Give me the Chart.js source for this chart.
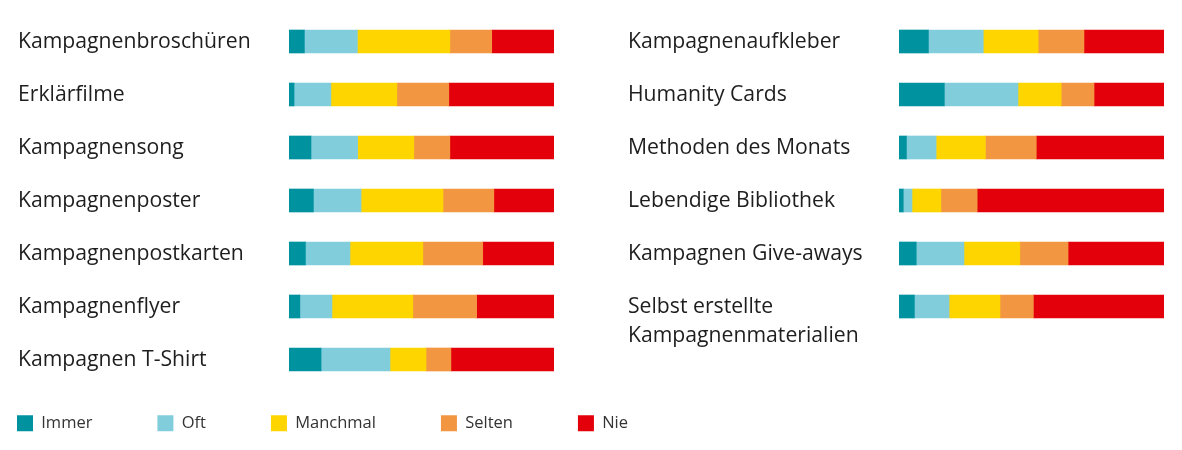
<!DOCTYPE html>
<html><head><meta charset="utf-8">
<script src="https://cdn.jsdelivr.net/npm/chart.js@4.4.1/dist/chart.umd.min.js"></script>
<style>
html,body{margin:0;padding:0;background:#fff;overflow:hidden;width:1182px;height:450px}
.box{position:absolute}
</style></head><body>
<div class="box" style="left:0;top:0"><canvas id="c1" width="572" height="400"></canvas></div>
<div class="box" style="left:610px;top:0"><canvas id="c2" width="572" height="400"></canvas></div>
<div class="box" style="left:-48px;top:350px"><canvas id="c3" width="800" height="220"></canvas></div>
<script>
const seriesNames = ['Immer','Oft','Manchmal','Selten','Nie'];
const seriesColors = ['#00929F','#82CDDC','#FFD500','#F39642','#E3000B'];

const leftCategories = ['Kampagnenbroschüren','Erklärfilme','Kampagnensong','Kampagnenposter','Kampagnenpostkarten','Kampagnenflyer','Kampagnen T-Shirt'];
const leftImmer    = [5.8, 1.9, 8.3, 9.2, 6.2, 4.1, 12.1];
const leftOft      = [20.0, 13.9, 17.6, 18.0, 16.8, 12.1, 26.0];
const leftManchmal = [34.9, 24.9, 21.2, 30.9, 27.5, 30.5, 13.6];
const leftSelten   = [15.8, 19.6, 13.6, 19.2, 22.6, 24.1, 9.4];
const leftNie      = [23.5, 39.7, 39.3, 22.7, 26.9, 29.2, 38.9];

const rightCategories = ['Kampagnenaufkleber','Humanity Cards','Methoden des Monats','Lebendige Bibliothek','Kampagnen Give-aways',['Selbst erstellte','Kampagnenmaterialien']];
const rightImmer    = [11.1, 17.1, 2.8, 1.6, 6.5, 5.8];
const rightOft      = [20.7, 27.8, 11.2, 3.3, 18.0, 13.1];
const rightManchmal = [20.7, 16.3, 18.6, 10.9, 21.1, 19.2];
const rightSelten   = [17.3, 12.4, 19.2, 13.7, 18.2, 12.6];
const rightNie      = [30.2, 26.4, 48.2, 70.5, 36.2, 49.3];

const FONT = 'Open Sans';

function makeDatasets(arrs){
  return arrs.map((d,i)=>({label:seriesNames[i], data:d, backgroundColor:seriesColors[i], borderWidth:0, barThickness:23}));
}

function barChart(id, labels, arrs, padBottom){
  return new Chart(document.getElementById(id), {
    type:'bar',
    data:{labels:labels, datasets:makeDatasets(arrs)},
    options:{
      indexAxis:'y', responsive:false, animation:false,
      layout:{padding:{left:18,right:18,top:15,bottom:padBottom}},
      plugins:{legend:{display:false}, tooltip:{enabled:true}},
      scales:{
        x:{stacked:true, min:0, max:100, display:false},
        y:{stacked:true, grid:{display:false}, border:{display:false},
           afterFit(s){ s.width = 271; s.paddingTop = 0; s.paddingBottom = 0; },
           ticks:{autoSkip:false, crossAlign:'far', padding:0, color:'#1e1e1e',
             font:{family:FONT, size:21.2, lineHeight:1.4},
             callback(v){ const l=this.getLabelForValue(v); return Array.isArray(l) ? [''].concat(l) : l; }}
        }
      }
    }
  });
}

barChart('c1', leftCategories, [leftImmer,leftOft,leftManchmal,leftSelten,leftNie], 14);
barChart('c2', rightCategories, [rightImmer,rightOft,rightManchmal,rightSelten,rightNie], 67);

// legend
new Chart(document.getElementById('c3'), {
  type:'bar',
  data:{labels:[''], datasets:seriesNames.map((n,i)=>({label:n, data:[0], backgroundColor:seriesColors[i], borderWidth:0}))},
  options:{
    responsive:false, animation:false,
    layout:{padding:0},
    scales:{x:{display:false}, y:{display:false}},
    plugins:{tooltip:{enabled:false},
      legend:{display:true, position:'top', align:'start', maxHeight:200,
        labels:{boxWidth:16, boxHeight:16, padding:65, color:'#333',
          font:{family:FONT, size:16.5}}}}
  }
});
</script>
</body></html>
